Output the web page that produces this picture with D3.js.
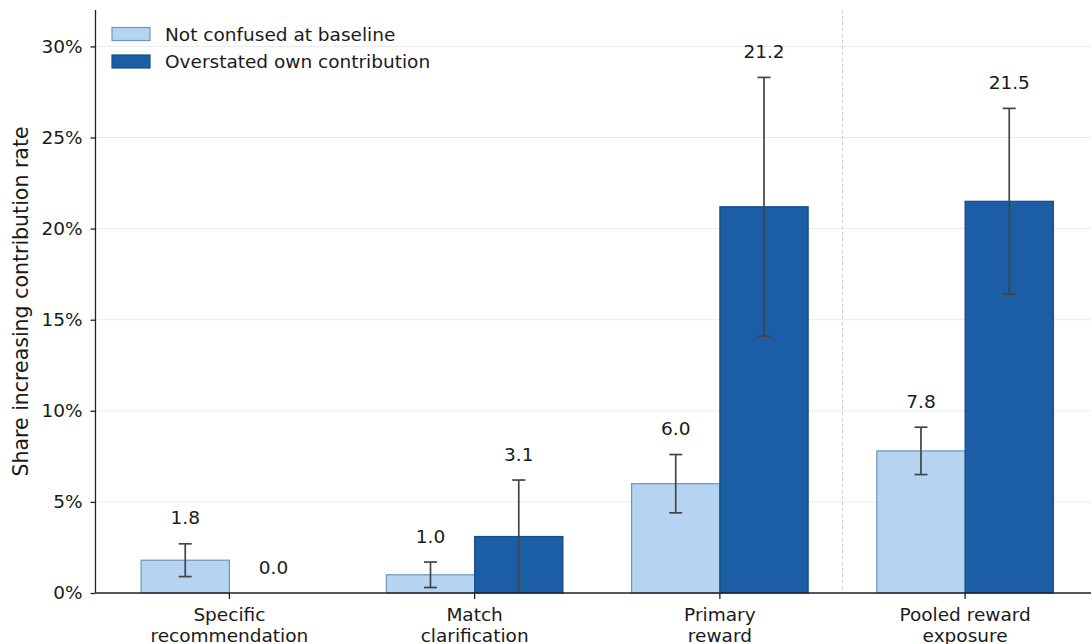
<!DOCTYPE html>
<html>
<head>
<meta charset="utf-8">
<script src="https://cdn.jsdelivr.net/npm/d3@7"></script>
<style>
  html, body { margin: 0; padding: 0; background: #fff; }
  svg text { font-family: "DejaVu Sans", sans-serif; fill: #1a1a1a; }
</style>
</head>
<body>
<svg id="chart" width="1091" height="644"></svg>
<script>
// Outcome categories (two-line tick labels)
const categories = [
  ["Specific", "recommendation"],
  ["Match", "clarification"],
  ["Primary", "reward"],
  ["Pooled reward", "exposure"]
];
const seriesNames = ["Not confused at baseline", "Overstated own contribution"];

// Share (%) increasing contribution rate, with 95% CI bounds
const notConfused     = [1.8, 1.0, 6.0, 7.8];
const notConfusedLow  = [0.9, 0.3, 4.4, 6.5];
const notConfusedHigh = [2.7, 1.7, 7.6, 9.1];

const overstated      = [0.0, 3.1, 21.2, 21.5];
const overstatedLow   = [0.0, 0.0, 14.1, 16.4];
const overstatedHigh  = [0.0, 6.2, 28.3, 26.6];

const yTicks = [0, 5, 10, 15, 20, 25, 30];

const colors = {
  fill:   ["#b6d4f2", "#1b5ea6"],
  stroke: ["#6a95c4", "#174d88"]
};

const svg = d3.select("#chart");
const barWidth = 0.36;
const fontSize = 18.5;

const x = d3.scaleLinear().domain([-0.546, 3.546]).range([95.5, 1099]);
const y = d3.scaleLinear().domain([0, 32]).range([593, 10]);

const series = [
  { name: seriesNames[0], vals: notConfused, lo: notConfusedLow, hi: notConfusedHigh, off: -barWidth / 2 },
  { name: seriesNames[1], vals: overstated,  lo: overstatedLow,  hi: overstatedHigh,  off:  barWidth / 2 }
];

// Horizontal grid
svg.append("g").selectAll("line").data(yTicks).join("line")
  .attr("x1", x.range()[0]).attr("x2", x.range()[1])
  .attr("y1", d => y(d)).attr("y2", d => y(d))
  .attr("stroke", "#ebebeb").attr("stroke-width", 1);

// Divider before the pooled estimate
svg.append("line")
  .attr("x1", x(2.5)).attr("x2", x(2.5))
  .attr("y1", y(32)).attr("y2", y(0))
  .attr("stroke", "#c8c8c8").attr("stroke-width", 1)
  .attr("stroke-dasharray", "3,3");

// Bars
series.forEach((s, si) => {
  svg.append("g").selectAll("rect").data(s.vals).join("rect")
    .attr("x", (d, i) => x(i + s.off - barWidth / 2))
    .attr("width", x(barWidth) - x(0))
    .attr("y", d => y(d))
    .attr("height", d => y(0) - y(d))
    .attr("fill", colors.fill[si])
    .attr("stroke", colors.stroke[si])
    .attr("stroke-width", 1.2);
});

// Error bars and value labels
series.forEach((s, si) => {
  const g = svg.append("g");
  s.vals.forEach((v, i) => {
    const cx = x(i + s.off);
    const lo = s.lo[i], hi = s.hi[i];
    if (hi > lo) {
      g.append("line").attr("x1", cx).attr("x2", cx)
        .attr("y1", y(lo)).attr("y2", y(hi))
        .attr("stroke", "#444").attr("stroke-width", 1.7);
      [lo, hi].forEach(b => {
        if (b > 0) {
          g.append("line").attr("x1", cx - 6.5).attr("x2", cx + 6.5)
            .attr("y1", y(b)).attr("y2", y(b))
            .attr("stroke", "#444").attr("stroke-width", 1.7);
        }
      });
    }
    g.append("text")
      .attr("x", cx).attr("y", y(Math.max(hi, v)) - 26)
      .attr("text-anchor", "middle").attr("dominant-baseline", "central")
      .attr("font-size", fontSize)
      .text(v.toFixed(1));
  });
});

// Y axis
const yAxis = d3.axisLeft(y).tickValues(yTicks).tickFormat(d => d + "%").tickSize(5).tickPadding(8);
const ya = svg.append("g").attr("transform", `translate(${x.range()[0]},0)`).call(yAxis);
ya.select(".domain").attr("d", `M0,${y(32)}V${y(0)}`).attr("stroke", "#222").attr("stroke-width", 1.3);
ya.selectAll(".tick line").attr("stroke", "#222").attr("stroke-width", 1.3);
ya.selectAll(".tick text").attr("font-size", fontSize).attr("font-family", "DejaVu Sans").attr("fill", "#1a1a1a");

// X axis
const xa = svg.append("g").attr("transform", `translate(0,${y(0)})`);
xa.append("line").attr("x1", x.range()[0]).attr("x2", x.range()[1])
  .attr("stroke", "#222").attr("stroke-width", 1.3);
categories.forEach((lines, i) => {
  xa.append("line").attr("x1", x(i)).attr("x2", x(i)).attr("y1", 0).attr("y2", 6)
    .attr("stroke", "#222").attr("stroke-width", 1.3);
  const t = xa.append("text").attr("text-anchor", "middle").attr("font-size", fontSize);
  lines.forEach((ln, k) => {
    t.append("tspan").attr("x", x(i)).attr("y", 28 + k * 21).text(ln);
  });
});

// Y axis title
svg.append("text")
  .attr("transform", `translate(21,${(y(0) + y(32)) / 2}) rotate(-90)`)
  .attr("text-anchor", "middle").attr("dominant-baseline", "central")
  .attr("font-size", 20.5)
  .text("Share increasing contribution rate");

// Legend
const legend = svg.append("g");
seriesNames.forEach((name, si) => {
  const ly = 34 + si * 27.5;
  legend.append("rect").attr("x", 112).attr("y", ly - 6.5).attr("width", 38).attr("height", 13)
    .attr("fill", colors.fill[si]).attr("stroke", colors.stroke[si]).attr("stroke-width", 1.2);
  legend.append("text").attr("x", 165).attr("y", ly)
    .attr("dominant-baseline", "central").attr("font-size", fontSize).text(name);
});
</script>
</body>
</html>
